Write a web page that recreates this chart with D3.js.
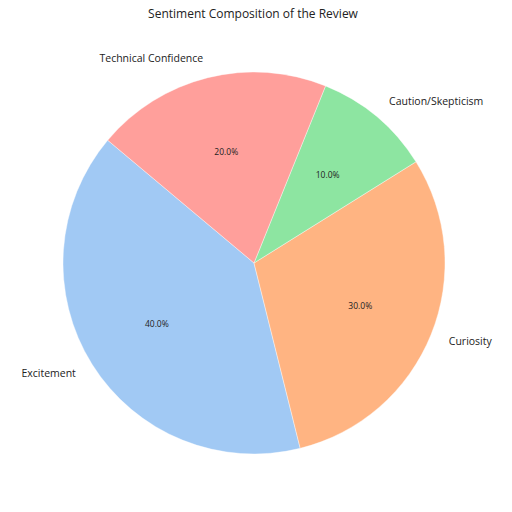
<!DOCTYPE html>
<html><head><meta charset="utf-8">
<script src="https://cdn.jsdelivr.net/npm/d3@7"></script>
<style>body{margin:0;background:#fff}svg{display:block}text{font-family:"Open Sans",Lato,sans-serif;fill:#222}</style>
</head><body>
<script>
const categories = ["Excitement","Curiosity","Caution/Skepticism","Technical Confidence"];
const values = [40,30,10,20];
const colors = ["#a1c9f4","#ffb482","#8de5a1","#ff9f9b"];
const title = "Sentiment Composition of the Review";

const W=512,H=512,cx=254,cy=263,R=191,startDeg=140;
const svg=d3.select("body").append("svg").attr("width",W).attr("height",H);
svg.append("rect").attr("width",W).attr("height",H).attr("fill","#fff");
svg.append("text").attr("x",253).attr("y",18).attr("text-anchor","middle").attr("font-size",12).text(title);

const total=d3.sum(values);
const toRad=d=>d*Math.PI/180;
let acc=startDeg;
const slices=values.map((v,i)=>{const a0=acc,a1=acc+v/total*360;acc=a1;return {i,v,a0,a1};});
const arc=d3.arc().innerRadius(0).outerRadius(R);
const g=svg.append("g").attr("transform",`translate(${cx},${cy})`);
slices.forEach(s=>{
  g.append("path").attr("d",arc({startAngle:toRad(90-s.a1),endAngle:toRad(90-s.a0)}))
   .attr("fill",colors[s.i]).attr("stroke","#fff").attr("stroke-width",0.4);
});
slices.forEach(s=>{
  const m=toRad((s.a0+s.a1)/2);
  const x=Math.cos(m),y=-Math.sin(m);
  g.append("text").attr("x",1.1*R*x).attr("y",1.1*R*y).attr("dy","0.3em")
   .attr("text-anchor",x>=0?"start":"end").attr("font-size",10.5).text(categories[s.i]);
  g.append("text").attr("x",0.6*R*x).attr("y",0.6*R*y).attr("dy","0.35em")
   .attr("text-anchor","middle").attr("font-size",8.5).text(d3.format(".1f")(s.v/total*100)+"%");
});
</script>
</body></html>
